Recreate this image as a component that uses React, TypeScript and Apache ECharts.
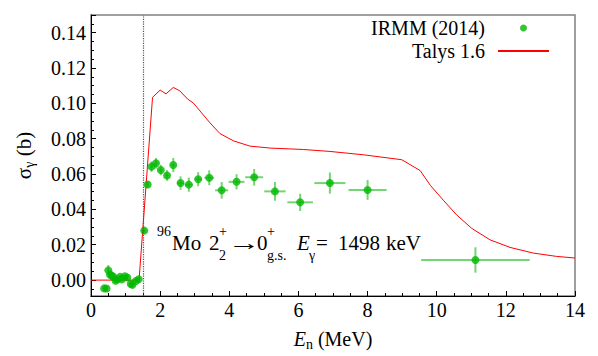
import React, { useEffect, useRef } from "react";
import * as echarts from "echarts";

// Talys 1.6 calculation
const talysE = [0, 1.39, 1.78, 2.0, 2.17, 2.38, 2.57, 2.79, 2.96, 3.2, 3.44, 3.73, 4.12, 4.6, 5.18, 6.14, 6.91, 7.88, 8.99, 9.52, 9.82, 10.19, 10.58, 11.01, 11.54, 12.12, 12.79, 13.47, 14.0];
const talysSigma = [0, 0, 0.1034, 0.1075, 0.1054, 0.109, 0.1071, 0.1025, 0.1002, 0.0946, 0.089, 0.0829, 0.0788, 0.0758, 0.0747, 0.0739, 0.0728, 0.0709, 0.0681, 0.062, 0.0535, 0.0452, 0.0368, 0.0293, 0.0228, 0.0185, 0.0153, 0.0134, 0.0125];

// IRMM (2014) measurement
const irmmE = [0.38, 0.45, 0.5, 0.55, 0.6, 0.65, 0.71, 0.76, 0.84, 0.89, 0.98, 1.05, 1.15, 1.2, 1.3, 1.38, 1.54, 1.64, 1.75, 1.88, 2.02, 2.2, 2.38, 2.59, 2.83, 3.1, 3.42, 3.78, 4.21, 4.72, 5.32, 6.05, 6.91, 8.0, 11.12];
const irmmSigma = [-0.0047, -0.0048, 0.0055, 0.0032, 0.0025, 0.0018, -0.0004, 0.0004, 0.0018, 0.0004, 0.0022, 0.0015, -0.0022, -0.0027, -0.0005, 0.0005, 0.028, 0.0541, 0.0642, 0.0661, 0.0623, 0.0592, 0.0651, 0.0549, 0.054, 0.0571, 0.0579, 0.0508, 0.0556, 0.0582, 0.0502, 0.044, 0.0549, 0.051, 0.0114];
const irmmDE = [0.02, 0.02, 0.02, 0.02, 0.02, 0.02, 0.02, 0.02, 0.02, 0.02, 0.02, 0.02, 0.02, 0.02, 0.02, 0.02, 0.03, 0.04, 0.04, 0.05, 0.05, 0.06, 0.06, 0.1, 0.12, 0.1, 0.14, 0.19, 0.23, 0.26, 0.31, 0.37, 0.45, 0.55, 1.57];
const irmmDSigma = [0.001, 0.001, 0.003, 0.0015, 0.001, 0.001, 0.001, 0.001, 0.001, 0.001, 0.001, 0.001, 0.001, 0.001, 0.001, 0.001, 0.0012, 0.002, 0.003, 0.003, 0.003, 0.003, 0.004, 0.0038, 0.004, 0.004, 0.0042, 0.0047, 0.0043, 0.0047, 0.0053, 0.0049, 0.006, 0.0056, 0.0072];

const thresholdE = 1.5;

const xTicks = { min: 0, max: 14, interval: 2 };
const yRange = { min: -0.009, max: 0.15 };

const SERIF = "Liberation Serif";

export default function App() {
  const ref = useRef<HTMLDivElement>(null);

  useEffect(() => {
    if (!ref.current) return;
    document.body.style.margin = "0";
    const chart = echarts.init(ref.current, null, { renderer: "svg" });

    const talysData = talysE.map((e, i) => [e, talysSigma[i]]);
    const irmmData = irmmE.map((e, i) => [e, irmmSigma[i]]);
    const errData = irmmE.map((e, i) => [e, irmmSigma[i], irmmDE[i], irmmDSigma[i]]);

    const txt = (text: string, x: number, y: number, size: number, italic = false, scaleX = 1) => ({
      type: "text",
      x,
      y,
      scaleX,
      style: {
        text,
        fontFamily: SERIF,
        fontSize: size,
        fontStyle: italic ? "italic" : "normal",
        fill: "#000",
        textAlign: "left",
        textVerticalAlign: "middle",
      },
      silent: true,
    });

    const option: any = {
      animation: false,
      backgroundColor: "#fff",
      textStyle: { fontFamily: SERIF },
      grid: {
        left: 91,
        right: 23,
        top: 15,
        bottom: 56,
        show: true,
        borderColor: "#808080",
        borderWidth: 1.5,
        backgroundColor: "transparent",
      },
      legend: {
        orient: "vertical",
        right: 43,
        top: 13,
        align: "right",
        itemWidth: 51,
        itemHeight: 7,
        itemGap: 3,
        textStyle: {
          fontFamily: SERIF,
          fontSize: 20,
          color: "#000",
          padding: [0, 8, 0, 0],
        },
        data: [
          { name: "IRMM (2014)", icon: "circle" },
          { name: "Talys 1.6", itemStyle: { opacity: 0 } },
        ],
      },
      xAxis: {
        type: "value",
        min: xTicks.min,
        max: xTicks.max,
        interval: xTicks.interval,
        name: "{i|E}{sub|n}{s| (MeV)}",
        nameLocation: "middle",
        nameGap: 31,
        nameTextStyle: {
          rich: {
            i: { fontFamily: SERIF, fontStyle: "italic", fontSize: 20, lineHeight: 24, color: "#000" },
            sub: { fontFamily: SERIF, fontSize: 14, lineHeight: 14, verticalAlign: "bottom", color: "#000" },
            s: { fontFamily: SERIF, fontSize: 20, lineHeight: 24, color: "#000" },
          },
        },
        axisLine: { show: true, onZero: false, lineStyle: { color: "#000", width: 1 } },
        axisTick: { show: true, inside: true, length: 5, lineStyle: { color: "#000" } },
        minorTick: { show: true, splitNumber: 4, length: 3, lineStyle: { color: "#000" } },
        splitLine: { show: false },
        axisLabel: { fontFamily: SERIF, fontSize: 20, color: "#000", margin: 4 },
      },
      yAxis: {
        type: "value",
        min: yRange.min,
        max: yRange.max,
        splitNumber: 8,
        name: "{s|σ}{sub|γ}{s| (b)}",
        nameLocation: "middle",
        nameGap: 55,
        nameTextStyle: {
          rich: {
            sub: { fontFamily: SERIF, fontSize: 14, lineHeight: 14, verticalAlign: "bottom", color: "#000" },
            s: { fontFamily: SERIF, fontSize: 21, lineHeight: 24, color: "#000" },
          },
        },
        axisLine: { show: true, onZero: false, lineStyle: { color: "#000", width: 1 } },
        axisTick: { show: true, inside: true, length: 5, lineStyle: { color: "#000" } },
        minorTick: { show: true, splitNumber: 4, length: 3, lineStyle: { color: "#000" } },
        splitLine: { show: false },
        axisLabel: {
          fontFamily: SERIF,
          fontSize: 20,
          color: "#000",
          margin: 5,
          showMinLabel: false,
          showMaxLabel: false,
          formatter: (v: number) => v.toFixed(2),
        },
      },
      series: [
        {
          name: "Talys 1.6",
          type: "line",
          data: talysData,
          symbol: "none",
          showSymbol: false,
          lineStyle: { color: "#ff0000", width: 1 },
          itemStyle: { color: "#ff0000" },
          z: 2,
          markLine: {
            silent: true,
            symbol: ["none", "none"],
            label: { show: false },
            lineStyle: { color: "#555", type: "dotted", width: 1.2 },
            data: [{ xAxis: thresholdE }],
          },
        },
        {
          name: "errbars",
          type: "custom",
          data: errData,
          encode: { x: 0, y: 1 },
          z: 3,
          renderItem: (params: any, api: any) => {
            const x = api.value(0);
            const y = api.value(1);
            const dx = api.value(2);
            const dy = api.value(3);
            const l = api.coord([x - dx, y]);
            const r = api.coord([x + dx, y]);
            const t = api.coord([x, y + dy]);
            const b = api.coord([x, y - dy]);
            const style = { stroke: "rgba(40,190,40,0.65)", lineWidth: 2 };
            return {
              type: "group",
              children: [
                { type: "line", shape: { x1: l[0], y1: l[1], x2: r[0], y2: r[1] }, style },
                { type: "line", shape: { x1: t[0], y1: t[1], x2: b[0], y2: b[1] }, style },
              ],
            };
          },
        },
        {
          name: "IRMM (2014)",
          type: "scatter",
          data: irmmData,
          symbol: "circle",
          symbolSize: 8,
          itemStyle: { color: "#00b800" },
          z: 4,
        },
      ],
      graphic: [
        {
          type: "group",
          children: [
            txt("96", 157, 231, 14),
            txt("Mo", 172, 243, 21),
            txt("2", 209, 243, 21),
            txt("+", 219, 231, 14),
            txt("2", 219, 255, 14),
            txt("→", 228, 243, 21, false, 1.55),
            txt("0", 257, 243, 21),
            txt("+", 267, 231, 14),
            txt("g.s.", 267, 255, 14),
            txt("E", 297, 243, 21, true),
            txt("γ", 309, 255, 14),
            txt("=", 316, 243, 21),
            txt("1498", 338, 243, 21),
            txt("keV", 386, 243, 21),
          ],
        },
      ],
    };

    chart.setOption(option);
    return () => chart.dispose();
  }, []);

  return <div ref={ref} style={{ width: 598, height: 356 }} />;
}
